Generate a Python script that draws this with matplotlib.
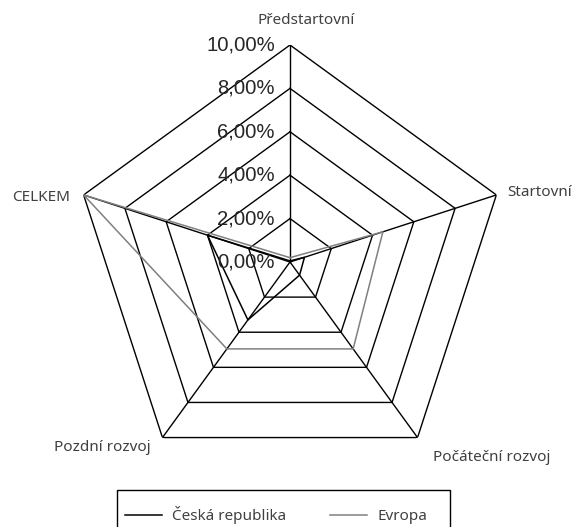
import numpy as np
import matplotlib.pyplot as plt
from matplotlib.transforms import offset_copy
from matplotlib.patches import Rectangle

# categories go clockwise from the top
categories = ['Předstartovní', 'Startovní', 'Počáteční rozvoj', 'Pozdní rozvoj', 'CELKEM']
cr_values = [0.05, 0.7, 0.75, 3.3, 4.0]     # Česká republika, in %
eu_values = [0.2, 4.5, 4.95, 4.95, 10.0]    # Evropa, in %
series_names = ['Česká republika', 'Evropa']
r_ticks = [0, 2, 4, 6, 8, 10]
r_labels = ['0,00%', '2,00%', '4,00%', '6,00%', '8,00%', '10,00%']

label_font = 'Noto Sans'
tick_font = 'Liberation Sans'
label_size = 11

fig = plt.figure(figsize=(5.72, 5.27), dpi=100)
ax = fig.add_axes([73 / 572, 48 / 527, 434 / 572, 434 / 527], projection='polar')
ax.set_theta_offset(np.pi / 2)
ax.set_theta_direction(-1)
ax.set_ylim(0, 10)
ax.set_axis_off()

theta = np.linspace(0, 2 * np.pi, len(categories), endpoint=False)
theta_closed = np.append(theta, theta[0])

# pentagon grid + spokes
for r in r_ticks[1:]:
    ax.plot(theta_closed, [r] * len(theta_closed), color='black', lw=1.0)
for t in theta:
    ax.plot([t, t], [0, 10], color='black', lw=1.0)

# data
l1, = ax.plot(theta_closed, cr_values + cr_values[:1], color='black', lw=1.1)
l2, = ax.plot(theta_closed, eu_values + eu_values[:1], color='#808080', lw=1.1)

# radial labels left of the top spoke
trans = offset_copy(ax.transData, fig=fig, x=-15, y=0, units='dots')
for r, lbl in zip(r_ticks, r_labels):
    ax.text(0, r, lbl, transform=trans, ha='right', va='center',
            fontsize=14.6, family=tick_font, color='#262626')

# category labels: (dx, dy) in pixels from the outer vertex, alignment
label_pos = [(16, 24, 'center'), (11, 2, 'left'), (15, -20, 'left'),
             (-12, -10, 'right'), (-13, -3, 'right')]
for t, name, (dx, dy, ha) in zip(theta, categories, label_pos):
    tr = offset_copy(ax.transData, fig=fig, x=dx, y=dy, units='dots')
    ax.text(t, 10, name, transform=tr, ha=ha, va='center',
            fontsize=label_size, family=label_font, color='#404040')

# legend (box drawn separately so it runs off the bottom like the original)
fig.legend([l1, l2], series_names, loc='center left',
           bbox_to_anchor=(125 / 572, 1 - 515 / 527), ncol=2, frameon=False,
           handlelength=2.42, handletextpad=0.65, columnspacing=2.9,
           borderpad=0, borderaxespad=0,
           prop={'family': label_font, 'size': label_size})
for txt in fig.legends[0].get_texts():
    txt.set_color('#404040')
fig.add_artist(Rectangle((117 / 572, -13 / 527), 333 / 572, 50 / 527,
                         transform=fig.transFigure, fill=False,
                         ec='black', lw=1.0))

fig.savefig('out.png', dpi=100)
